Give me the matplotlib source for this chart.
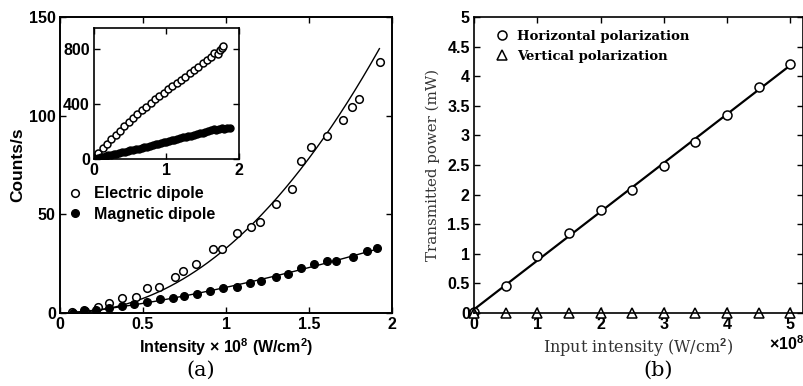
import matplotlib
matplotlib.use('Agg')
import matplotlib.pyplot as plt
import numpy as np

# ---- panel (a): main plot, intensity in 1e8 W/cm^2 ----
ed_x = [0.07, 0.15, 0.227, 0.297, 0.371, 0.458, 0.522, 0.594, 0.693, 0.743, 0.819, 0.924, 0.976,
        1.064, 1.149, 1.205, 1.299, 1.400, 1.450, 1.510, 1.610, 1.703, 1.761, 1.799, 1.928]
ed_y = [0.3, 1.0, 3.2, 5.2, 7.4, 7.9, 12.5, 13.3, 18.1, 21.5, 24.8, 32.4, 32.4,
        40.7, 43.4, 46.0, 55.2, 63.0, 77.0, 84.0, 89.7, 97.8, 104.3, 108.5, 127.0]

md_x = [0.076, 0.145, 0.217, 0.297, 0.371, 0.446, 0.522, 0.602, 0.679, 0.747, 0.823, 0.904, 0.984,
        1.064, 1.145, 1.213, 1.299, 1.376, 1.450, 1.530, 1.606, 1.661, 1.767, 1.847, 1.908]
md_y = [0.0, 1.5, 1.5, 2.7, 3.5, 4.6, 5.4, 6.9, 7.8, 8.6, 9.6, 11.3, 12.5,
        13.3, 15.0, 16.2, 18.1, 19.6, 23.0, 24.8, 26.4, 26.5, 28.2, 31.6, 32.8]

# power-law fits: counts = a * I**n
ed_fit = (32.8, 2.15)
md_fit = (13.0, 1.41)
fit_range = (0.07, 1.924)

# ---- panel (a): inset ----
ins_ed_x = [0.06, 0.12, 0.18, 0.24, 0.30, 0.36, 0.42, 0.48, 0.54, 0.60, 0.66, 0.72, 0.78, 0.84, 0.90, 0.96,
            1.02, 1.08, 1.14, 1.20, 1.26, 1.32, 1.38, 1.44, 1.50, 1.56, 1.62, 1.66, 1.71, 1.74, 1.76, 1.78]
ins_ed_y = [46, 80, 112, 142, 172, 205, 238, 265, 296, 326, 356, 380, 408, 432, 458, 482,
            505, 528, 552, 574, 598, 622, 648, 668, 694, 716, 742, 768, 764, 790, 802, 818]

ins_md_x = [0.05, 0.09, 0.13, 0.16, 0.20, 0.24, 0.28, 0.31, 0.35, 0.39, 0.43, 0.47, 0.50, 0.54, 0.58, 0.62,
            0.66, 0.69, 0.73, 0.77, 0.81, 0.85, 0.88, 0.92, 0.96, 1.00, 1.04, 1.07, 1.11, 1.15, 1.19, 1.23,
            1.27, 1.30, 1.34, 1.38, 1.42, 1.46, 1.50, 1.53, 1.57, 1.61, 1.65, 1.68, 1.72, 1.76, 1.80, 1.84, 1.87]
ins_md_y = [8, 13, 17, 22, 26, 31, 36, 39, 44, 49, 53, 59, 62, 67, 73, 76,
            82, 86, 90, 95, 100, 106, 110, 115, 121, 126, 131, 136, 141, 146, 152, 157,
            161, 166, 170, 175, 180, 186, 192, 197, 203, 212, 216, 214, 219, 222, 220, 223, 222]

# ---- panel (b) ----
pol_x = [0, 0.5, 1, 1.5, 2, 2.5, 3, 3.5, 4, 4.5, 5]  # x 1e8 W/cm^2
hor_y = [0.02, 0.46, 0.96, 1.35, 1.74, 2.07, 2.48, 2.89, 3.35, 3.82, 4.20]
ver_y = [0, 0, 0, 0, 0, 0, 0, 0, 0, 0, 0]

sans = ['Liberation Sans', 'DejaVu Sans']
serif = ['DejaVu Serif']
plt.rcParams['font.family'] = sans
plt.rcParams['font.weight'] = 'bold'
plt.rcParams['mathtext.fontset'] = 'custom'
plt.rcParams['mathtext.rm'] = 'Liberation Sans:bold'
plt.rcParams['mathtext.default'] = 'rm'

fig = plt.figure(figsize=(8.04, 3.86), dpi=100)


def box_ticks(ax, lw=1.2):
    ax.tick_params(direction='in', top=True, right=True, length=4, width=1, labelsize=11.5, pad=3)
    for s in ax.spines.values():
        s.set_linewidth(lw)


# (a) main
ax1 = fig.add_axes([0.0746, 0.1891, 0.413, 0.767])
xf = np.linspace(fit_range[0], fit_range[1], 200)
ax1.plot(xf, ed_fit[0] * xf ** ed_fit[1], color='black', lw=1.0)
ax1.plot(xf, md_fit[0] * xf ** md_fit[1], color='black', lw=1.0)
ax1.plot(ed_x, ed_y, 'o', ms=5.5, mfc='white', mec='black', mew=1.1, label='Electric dipole')
ax1.plot(md_x, md_y, 'o', ms=5.5, mfc='black', mec='black', label='Magnetic dipole')
ax1.set_xlim(0, 2)
ax1.set_ylim(0, 150)
ax1.set_xticks([0, 0.5, 1, 1.5, 2])
ax1.set_xticklabels(['0', '0.5', '1', '1.5', '2'])
ax1.set_yticks([0, 50, 100, 150])
box_ticks(ax1, 1.4)
ax1.set_ylabel('Counts/s', fontsize=12.5, fontweight='bold', labelpad=3)
ax1.set_xlabel(r'Intensity $\times$ 10$^8$ (W/cm$^2$)', fontsize=11.5, fontweight='bold', labelpad=3)
ax1.legend(loc='upper left', bbox_to_anchor=(-0.002, 0.45), frameon=False, fontsize=11.5,
           handletextpad=0.6, handlelength=1.2, labelspacing=0.35, borderaxespad=0)

# (a) inset
ax2 = fig.add_axes([0.1169, 0.588, 0.1803, 0.3394])
ax2.plot(ins_ed_x, ins_ed_y, 'o', ms=5, mfc='white', mec='black', mew=1.1)
ax2.plot(ins_md_x, ins_md_y, 'o', ms=5, mfc='black', mec='black')
ax2.set_xlim(0, 2)
ax2.set_ylim(0, 950)
ax2.set_xticks([0, 1, 2])
ax2.set_yticks([0, 400, 800])
box_ticks(ax2, 1.2)

# (b)
ax3 = fig.add_axes([0.5896, 0.1891, 0.409, 0.767])
k = np.polyfit(pol_x, hor_y, 1)
xl = np.array([pol_x[0], pol_x[-1]])
ax3.plot(xl, np.polyval(k, xl), color='black', lw=1.6)
ax3.plot(pol_x, hor_y, 'o', ms=6.5, mfc='white', mec='black', mew=1.1, clip_on=False,
         label='Horizontal polarization')
ax3.plot(pol_x, ver_y, '^', ms=6.5, mfc='white', mec='black', mew=1.1, clip_on=False,
         label='Vertical polarization')
ax3.set_xlim(0, 5.2)
ax3.set_ylim(0, 5)
ax3.set_xticks([0, 1, 2, 3, 4, 5])
ax3.set_yticks(np.arange(0, 5.01, 0.5))
ax3.set_yticklabels(['0', '0.5', '1', '1.5', '2', '2.5', '3', '3.5', '4', '4.5', '5'])
box_ticks(ax3, 1.2)
ax3.set_ylabel('Transmitted power (mW)', fontsize=10.8, fontweight='normal', family=serif,
               color='#333333', labelpad=5)
ax3.set_xlabel('Input intensity (W/cm$^2$)', fontsize=11.5, fontweight='normal', family=serif,
               color='#333333', labelpad=3)
leg = ax3.legend(loc='upper left', bbox_to_anchor=(0.05, 0.975), frameon=False,
                 prop={'family': serif, 'weight': 'bold', 'size': 9.5},
                 handletextpad=0.6, handlelength=1.0, labelspacing=0.55, borderaxespad=0)
fig.text(0.957, 0.11, r'$\times$10$^8$', fontsize=11.5, fontweight='bold', ha='left', va='center')

# panel letters
fig.text(0.249, 0.04, '(a)', family=serif, fontweight='normal', fontsize=15, ha='center', va='center')
fig.text(0.818, 0.04, '(b)', family=serif, fontweight='normal', fontsize=15, ha='center', va='center')

fig.savefig('out.png', dpi=100)
